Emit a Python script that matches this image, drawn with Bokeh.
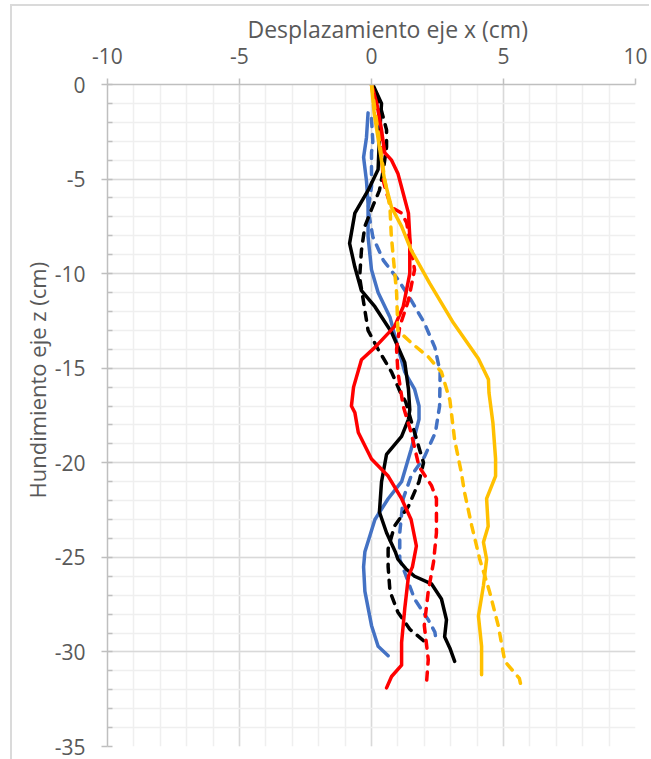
from bokeh.plotting import figure
from bokeh.models import Range1d, LinearAxis, FixedTicker, Title
from bokeh.embed import file_html
from bokeh.resources import INLINE

# ---------------- data ----------------
x_ticks = [-10, -5, 0, 5, 10]
x_tick_labels = ["-10", "-5", "0", "5", "10"]
y_ticks = [0, -5, -10, -15, -20, -25, -30, -35]
y_tick_labels = ["0", "-5", "-10", "-15", "-20", "-25", "-30", "-35"]
x_title = "Desplazamiento eje x (cm)"
y_title = "Hundimiento eje z (cm)"

blue_solid_z = [-1.5, -2.8, -3.85, -5.1, -6.3, -8.05, -9.8, -11.0, -12.3, -13.9, -15.2, -16.1, -17.0, -17.7,
                -19.3, -21.0, -21.9, -23.0, -24.7, -25.5, -26.8, -28.6, -29.7, -30.2]
blue_solid_x = [-0.13, -0.19, -0.3, -0.19, -0.13, -0.13, 0.0, 0.25, 0.7, 1.0, 1.26, 1.63, 1.8, 1.8,
                1.5, 1.14, 0.63, 0.13, -0.25, -0.3, -0.25, 0.0, 0.25, 0.63]

blue_dash_z = [-1.8, -3.0, -3.6, -5.4, -6.6, -8.05, -9.3, -10.3, -11.4, -12.6, -13.9, -15.2, -17.0, -18.4,
               -19.7, -20.7, -21.9, -23.7, -25.1, -25.8, -27.2, -28.3, -28.95, -29.5]
blue_dash_x = [0.0, 0.05, 0.0, 0.0, -0.13, 0.05, 0.45, 1.0, 1.5, 2.0, 2.4, 2.6, 2.58, 2.42,
               2.0, 1.5, 1.2, 1.07, 1.07, 1.26, 1.63, 2.15, 2.4, 2.46]

black_solid_z = [0.0, -1.0, -2.8, -4.5, -5.6, -6.8, -8.4, -9.65, -10.9, -11.75, -13.1, -14.7, -16.1, -17.2,
                 -17.7, -18.6, -19.55, -21.0, -22.6, -23.7, -24.7, -25.1, -25.6, -26.0, -26.4, -27.2, -28.3,
                 -29.2, -29.8, -30.5]
black_solid_x = [0.05, 0.38, 0.3, 0.25, -0.13, -0.63, -0.83, -0.63, -0.38, 0.13, 0.76, 1.26, 1.4, 1.45,
                 1.4, 1.14, 0.57, 0.38, 0.3, 0.57, 0.9, 1.0, 1.3, 1.63, 2.27, 2.65, 2.84,
                 2.77, 2.97, 3.15]

black_dash_z = [-0.5, -1.4, -2.4, -3.3, -4.5, -5.6, -6.6, -7.5, -8.75, -10.2, -11.5, -13.0, -14.0, -15.2,
                -16.3, -16.8, -18.4, -20.0, -21.0, -22.3, -23.35, -24.55, -25.5, -26.8, -27.9, -28.8, -29.4]
black_dash_x = [0.19, 0.38, 0.57, 0.57, 0.45, 0.3, 0.0, -0.25, -0.38, -0.45, -0.3, -0.13, 0.25, 0.76,
                1.1, 1.3, 1.63, 1.97, 1.8, 1.4, 0.87, 0.63, 0.63, 0.7, 1.0, 1.45, 1.97]

red_solid_z = [0.0, -1.0, -2.4, -3.6, -4.0, -4.7, -5.75, -6.8, -8.05, -10.0, -11.75, -12.8, -13.9, -14.55,
               -16.0, -17.0, -17.35, -18.4, -19.8, -20.7, -21.9, -23.0, -24.4, -25.5, -26.0, -27.7, -29.5,
               -30.7, -31.3, -31.9]
red_solid_x = [0.0, 0.2, 0.38, 0.5, 0.76, 1.0, 1.2, 1.4, 1.45, 1.45, 1.2, 0.87, 0.13, -0.38,
               -0.68, -0.76, -0.63, -0.5, 0.0, 0.63, 1.14, 1.5, 1.7, 1.55, 1.4, 1.26, 1.14,
               1.14, 0.76, 0.57]

red_dash_z = [0.0, -1.5, -3.0, -5.1, -5.75, -6.5, -6.8, -7.3, -8.6, -9.8, -11.4, -12.8, -14.0, -15.2,
              -17.0, -18.4, -20.2, -21.2, -21.9, -23.7, -25.25, -26.8, -28.6, -30.4, -31.7]
red_dash_x = [0.0, 0.25, 0.35, 0.45, 0.57, 0.76, 1.14, 1.33, 1.5, 1.63, 1.4, 1.07, 0.95, 1.0,
              1.2, 1.5, 1.8, 2.27, 2.46, 2.46, 2.35, 2.15, 2.0, 2.15, 2.08]

orange_solid_z = [0.0, -1.5, -3.3, -5.1, -6.5, -7.5, -8.75, -10.5, -12.6, -14.5, -15.6, -16.3, -17.9,
                  -19.8, -20.7, -21.9, -23.35, -24.2, -25.1, -26.5, -28.1, -29.7, -31.2]
orange_solid_x = [0.0, 0.1, 0.3, 0.5, 0.76, 1.14, 1.5, 2.2, 3.1, 4.05, 4.43, 4.45, 4.6,
                  4.7, 4.7, 4.36, 4.42, 4.24, 4.36, 4.24, 4.05, 4.17, 4.17]

orange_dash_z = [0.0, -1.0, -3.0, -5.0, -6.5, -8.0, -9.5, -11.0, -13.0, -13.65, -14.4, -15.2, -16.7,
                 -18.8, -20.5, -21.6, -23.35, -25.1, -26.8, -28.6, -30.5, -31.4, -31.9]
orange_dash_x = [0.0, 0.1, 0.3, 0.5, 0.7, 0.75, 0.85, 0.95, 1.0, 1.5, 2.15, 2.65, 2.97,
                 3.15, 3.4, 3.53, 3.8, 4.1, 4.47, 4.8, 5.05, 5.6, 5.68]

series = [
    (blue_solid_x, blue_solid_z, "#4472C4", "solid"),
    (blue_dash_x, blue_dash_z, "#4472C4", "dashed"),
    (black_solid_x, black_solid_z, "#000000", "solid"),
    (black_dash_x, black_dash_z, "#000000", "dashed"),
    (red_solid_x, red_solid_z, "#FF0000", "solid"),
    (red_dash_x, red_dash_z, "#FF0000", "dashed"),
    (orange_solid_x, orange_solid_z, "#FFC000", "solid"),
    (orange_dash_x, orange_dash_z, "#FFC000", "dashed"),
]

# ---------------- figure ----------------
FONT = "Open Sans"
TXT = "#595959"
AX = "#BFBFBF"

p = figure(frame_width=528, frame_height=662,
           x_range=Range1d(-10, 10), y_range=Range1d(-35, 0),
           x_axis_location=None, y_axis_location=None,
           output_backend="svg", toolbar_location=None,
           min_border_left=95, min_border_top=78, min_border_right=14, min_border_bottom=13)
p.outline_line_color = None
p.background_fill_color = "white"
p.border_fill_color = "white"
p.styles = {"margin-left": "10px", "margin-top": "4px",
            "border-left": "2px solid #DADADA", "border-top": "2px solid #DADADA"}

xaxis = LinearAxis(ticker=FixedTicker(ticks=x_ticks, minor_ticks=list(range(-10, 11))))
xaxis.major_label_overrides = {t: s for t, s in zip(x_ticks, x_tick_labels)}
yaxis = LinearAxis(ticker=FixedTicker(ticks=y_ticks, minor_ticks=list(range(-35, 1))))
yaxis.major_label_overrides = {t: s for t, s in zip(y_ticks, y_tick_labels)}

for ax in (xaxis, yaxis):
    ax.axis_line_color = AX
    ax.axis_line_width = 1.5
    ax.major_tick_line_color = AX
    ax.major_tick_line_width = 1.5
    ax.major_tick_in = 0
    ax.major_tick_out = 6
    ax.major_label_text_font = FONT
    ax.major_label_text_font_size = "21px"
    ax.major_label_text_color = TXT

xaxis.minor_tick_line_color = None
xaxis.major_label_standoff = 15
yaxis.minor_tick_line_color = AX
yaxis.minor_tick_line_width = 1.5
yaxis.minor_tick_in = 5
yaxis.minor_tick_out = 0
yaxis.major_label_standoff = 16

p.add_layout(xaxis, "above")
p.add_layout(yaxis, "left")

# axis titles (as in the reference, slightly off-centre)
p.add_layout(Title(text=x_title, align="left", offset=140, standoff=0,
                   text_font=FONT, text_font_size="23px", text_font_style="normal",
                   text_color=TXT), "above")
p.add_layout(Title(text=y_title, align="left", offset=248, standoff=0,
                   text_font=FONT, text_font_size="22px", text_font_style="normal",
                   text_color=TXT), "left")

p.xgrid.ticker = xaxis.ticker
p.ygrid.ticker = yaxis.ticker
for g in (p.xgrid, p.ygrid):
    g.grid_line_color = "#D9D9D9"
    g.grid_line_width = 1.5
    g.minor_grid_line_color = "#EFEFEF"
    g.minor_grid_line_width = 1.5

for xs, zs, col, style in series:
    p.line(xs, zs, line_color=col, line_width=3.5,
           line_dash=("solid" if style == "solid" else "8 8"),
           line_join="round", line_cap="round")

open("out.html", "w").write(file_html(p, INLINE))
